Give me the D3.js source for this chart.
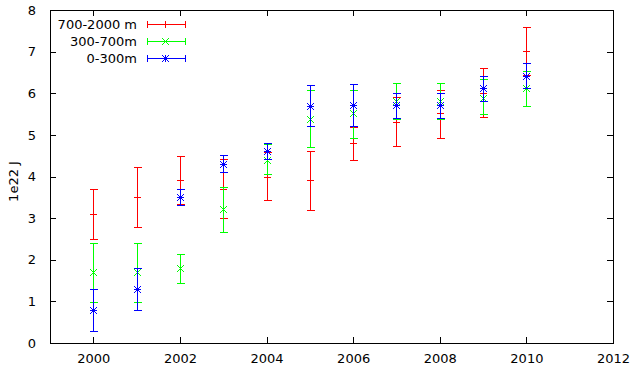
<!DOCTYPE html>
<html><head><meta charset="utf-8">
<script src="https://cdn.jsdelivr.net/npm/d3@7"></script>
<style>
body{margin:0;background:#fff;}
svg{display:block;font-family:"DejaVu Sans",sans-serif;}
</style></head>
<body><svg id="c" width="634" height="373"></svg>
<script>
const years = [2000,2001,2002,2003,2004,2005,2006,2007,2008,2009,2010];
// 700-2000 m
const deepVal = [3.09,3.50,3.91,3.70,4.00,3.91,4.80,5.30,5.52,6.00,7.01];
const deepLo  = [2.51,2.78,3.33,3.00,3.43,3.19,4.39,4.73,4.92,5.42,6.43];
const deepHi  = [3.69,4.22,4.49,4.41,4.60,4.61,5.20,5.90,6.09,6.60,7.60];
// 300-700 m
const midVal = [1.70,1.70,1.79,3.22,4.40,5.38,5.52,5.81,5.81,5.89,6.12];
const midLo  = [0.98,0.98,1.43,2.66,4.05,4.70,4.92,5.37,5.37,5.49,5.69];
const midHi  = [2.40,2.40,2.15,3.74,4.77,6.08,6.09,6.24,6.24,6.34,6.53];
// 0-300 m
const surfVal = [0.79,1.29,3.50,4.30,4.61,5.70,5.71,5.71,5.71,6.12,6.42];
const surfLo  = [0.28,0.79,3.31,4.10,4.41,5.21,5.21,5.40,5.40,5.81,6.12];
const surfHi  = [1.29,1.79,3.69,4.51,4.80,6.20,6.22,6.00,6.00,6.41,6.72];

const seriesNames = ["700-2000 m","300-700m","0-300m"];
const seriesColors = ["#ff0000","#00ff00","#0000ff"];
const seriesMarks = ["plus","cross","star"];
const xTicks = [2000,2002,2004,2006,2008,2010,2012];
const yTicks = [0,1,2,3,4,5,6,7,8];
const yLabel = "1e22 J";

const series = [
  {val:deepVal, lo:deepLo, hi:deepHi},
  {val:midVal, lo:midLo, hi:midHi},
  {val:surfVal, lo:surfLo, hi:surfHi}
].map((s,i)=>({...s, name:seriesNames[i], color:seriesColors[i], mark:seriesMarks[i]}));

const FS = 13;
const L=50, R=613, T=10, B=343;
const x = d3.scaleLinear().domain([1999,2012]).range([L,R]);
const y = d3.scaleLinear().domain([0,8]).range([B,T]);
const svg = d3.select("#c");
const px = v => Math.round(v)+0.5;

// axes with inward ticks
const gx = svg.append("g").attr("transform",`translate(0,${B})`)
  .call(d3.axisBottom(x).tickValues(xTicks).tickFormat(d3.format("d")).tickSizeInner(-6).tickSizeOuter(0).tickPadding(11));
const gxt = svg.append("g").attr("transform",`translate(0,${T})`)
  .call(d3.axisTop(x).tickValues(xTicks).tickFormat("").tickSizeInner(-6).tickSizeOuter(0));
const gy = svg.append("g").attr("transform",`translate(${L},0)`)
  .call(d3.axisLeft(y).tickValues(yTicks).tickFormat(d3.format("d")).tickSizeInner(-6).tickSizeOuter(0).tickPadding(14));
const gyr = svg.append("g").attr("transform",`translate(${R},0)`)
  .call(d3.axisRight(y).tickValues(yTicks).tickFormat("").tickSizeInner(-6).tickSizeOuter(0));
[gx,gxt,gy,gyr].forEach(g=>{
  g.select(".domain").remove();
  g.selectAll("line").attr("stroke","#000").attr("shape-rendering","crispEdges");
  g.selectAll("text").attr("font-size",FS).attr("fill","#000").attr("font-family","DejaVu Sans, sans-serif");
});
gx.selectAll("text").attr("dy","0.71em");
svg.append("rect").attr("x",L+0.5).attr("y",T+0.5).attr("width",R-L).attr("height",B-T)
  .attr("fill","none").attr("stroke","#000").attr("shape-rendering","crispEdges");

svg.append("text").attr("transform",`translate(13,${(T+B)/2+5}) rotate(-90)`)
  .attr("text-anchor","middle").attr("dominant-baseline","central").attr("font-size",FS).text(yLabel);

function drawMark(g, cx, cy, type, color){
  const s=3.5;
  const p = d3.path();
  if(type==="plus"||type==="star"){ p.moveTo(cx-s,cy); p.lineTo(cx+s,cy); p.moveTo(cx,cy-s); p.lineTo(cx,cy+s); }
  if(type==="cross"||type==="star"){ p.moveTo(cx-s,cy-s); p.lineTo(cx+s,cy+s); p.moveTo(cx-s,cy+s); p.lineTo(cx+s,cy-s); }
  g.append("path").attr("d",p.toString()).attr("stroke",color).attr("fill","none").attr("stroke-width",1);
}

const cap=3.5;
series.forEach(s=>{
  const g = svg.append("g");
  years.forEach((yr,i)=>{
    const cx = px(x(yr));
    const p = d3.path();
    p.moveTo(cx, px(y(s.lo[i]))); p.lineTo(cx, px(y(s.hi[i])));
    p.moveTo(cx-cap-0.5, px(y(s.lo[i]))); p.lineTo(cx+cap+0.5, px(y(s.lo[i])));
    p.moveTo(cx-cap-0.5, px(y(s.hi[i]))); p.lineTo(cx+cap+0.5, px(y(s.hi[i])));
    g.append("path").attr("d",p.toString()).attr("stroke",s.color).attr("fill","none").attr("shape-rendering","crispEdges");
    drawMark(g, cx, px(y(s.val[i])), s.mark, s.color);
  });
});

// legend
series.forEach((s,i)=>{
  const ly = [24,41,58][i]+0.5;
  const g = svg.append("g");
  g.append("text").attr("x",137).attr("y",ly).attr("text-anchor","end").attr("dominant-baseline","central")
    .attr("font-size",FS).text(s.name);
  const p=d3.path();
  p.moveTo(147,ly); p.lineTo(185,ly);
  p.moveTo(147.5,ly-cap); p.lineTo(147.5,ly+cap);
  p.moveTo(185.5,ly-cap); p.lineTo(185.5,ly+cap);
  g.append("path").attr("d",p.toString()).attr("stroke",s.color).attr("fill","none").attr("shape-rendering","crispEdges");
  drawMark(g,165.5,ly,s.mark,s.color);
});
</script></body></html>
